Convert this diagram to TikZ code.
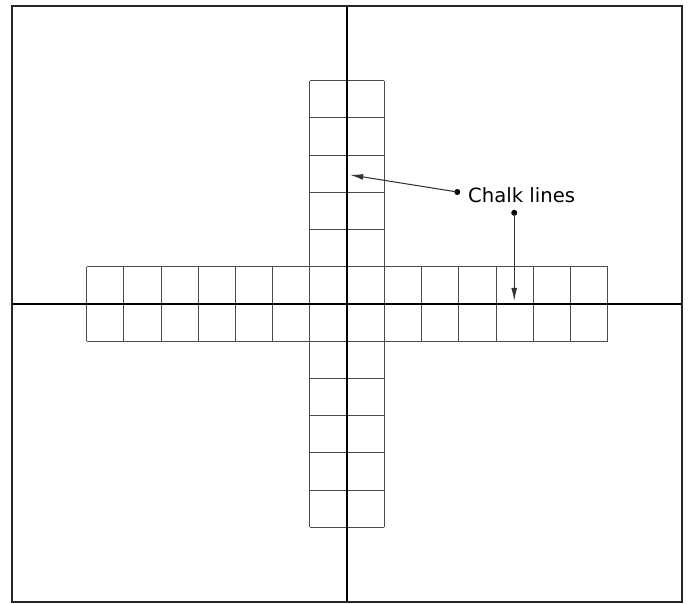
\documentclass[tikz,border=0pt]{standalone}
\usepackage{fontspec}
\setmainfont{DejaVu Sans}
\usetikzlibrary{arrows.meta}
\tikzset{
  tile/.style={draw=black!70, line width=0.7pt},
  chalk/.style={draw=black, line width=1.2pt},
  pointer/.style={draw=black!80, line width=0.8pt, -{Latex[length=10pt,width=4.5pt]}}
}
\begin{document}
\begin{tikzpicture}
\useasboundingbox (-9.33,-8.06) rectangle (9.16,8.17);
% tiles
\draw[tile] (-7,-1) grid (7,1);
\draw[tile] (-1,-6) grid (1,6);
% chalk lines and room
\draw[chalk] (-9,0) -- (9,0);
\draw[chalk] (0,-8) -- (0,8);
\draw[draw=black!85, line width=1.5pt] (-9,-8) rectangle (9,8);
\node[anchor=west, font=\fontsize{15}{18}\selectfont] (chalk) at (3.13,2.93) {Chalk lines};
\coordinate (d1) at (2.96,3.01);
\coordinate (t1) at (0.08,3.47);
\coordinate (d2) at (4.49,2.45);
\coordinate (t2) at (4.49,0.08);
\fill (d1) circle [radius=2.3pt];
\fill (d2) circle [radius=2.3pt];
\draw[pointer] (d1) -- (t1);
\draw[pointer] (d2) -- (t2);
\end{tikzpicture}
\end{document}
